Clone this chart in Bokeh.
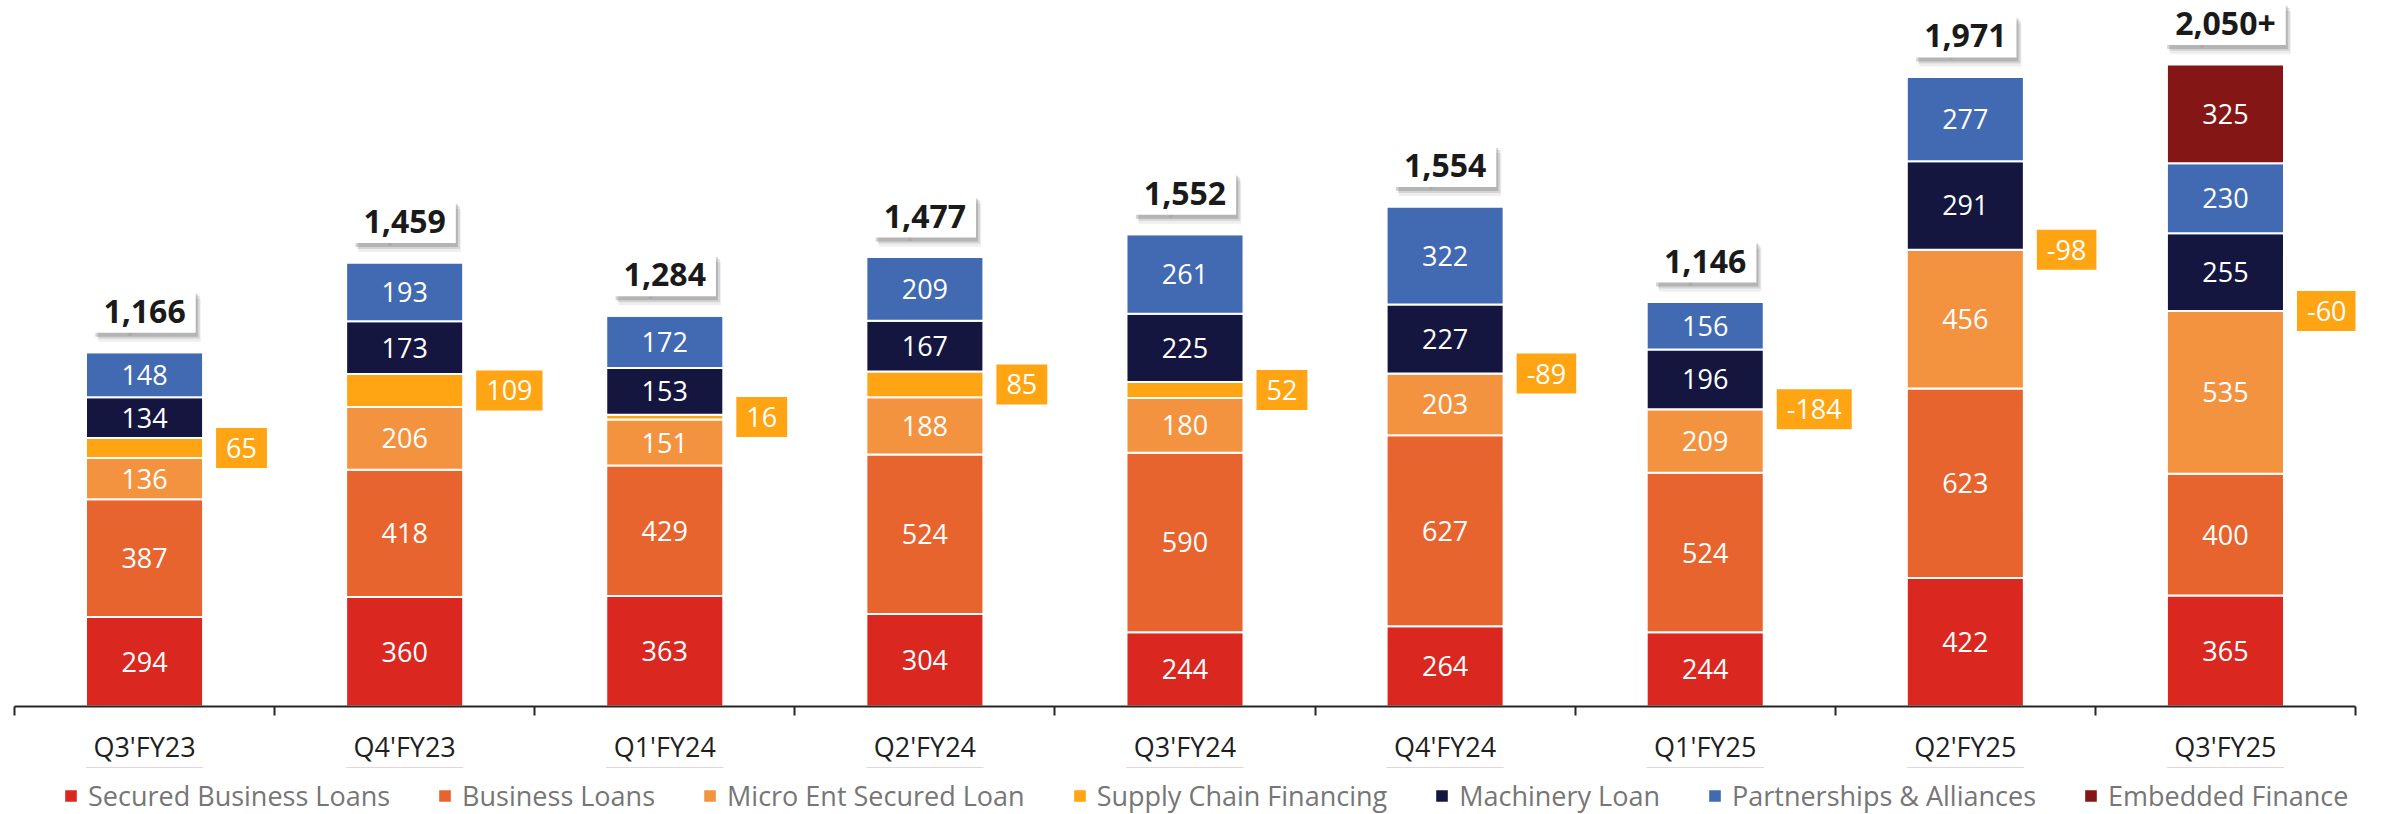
import numpy as np
from bokeh.plotting import figure
from bokeh.layouts import column
from bokeh.models import (ColumnDataSource, Range1d, LinearAxis, FixedTicker, Legend,
                          LegendItem, LabelSet, Label)
from bokeh.core.properties import value
from bokeh.embed import file_html
from bokeh.resources import INLINE

# ---------------- data ----------------
categories = ["Q3'FY23", "Q4'FY23", "Q1'FY24", "Q2'FY24", "Q3'FY24",
              "Q4'FY24", "Q1'FY25", "Q2'FY25", "Q3'FY25"]
secured_business_loans = [294, 360, 363, 304, 244, 264, 244, 422, 365]
business_loans = [387, 418, 429, 524, 590, 627, 524, 623, 400]
micro_ent_secured_loan = [136, 206, 151, 188, 180, 203, 209, 456, 535]
supply_chain_financing = [65, 109, 16, 85, 52, -89, -184, -98, -60]
machinery_loan = [134, 173, 153, 167, 225, 227, 196, 291, 255]
partnerships_alliances = [148, 193, 172, 209, 261, 322, 156, 277, 230]
embedded_finance = [0, 0, 0, 0, 0, 0, 0, 0, 325]
total_labels = ["1,166", "1,459", "1,284", "1,477", "1,552",
                "1,554", "1,146", "1,971", "2,050+"]

series_names = ["Secured Business Loans", "Business Loans", "Micro Ent Secured Loan",
                "Supply Chain Financing", "Machinery Loan", "Partnerships & Alliances",
                "Embedded Finance"]
series_values = [secured_business_loans, business_loans, micro_ent_secured_loan,
                 supply_chain_financing, machinery_loan, partnerships_alliances,
                 embedded_finance]
colors = ["#DA2820", "#E8642E", "#F4933F", "#FFA412", "#141640", "#416AB2", "#841716"]

FONT = "Open Sans"
n = len(categories)
xs = [i + 0.5 for i in range(n)]
BAR_W = 0.45

# drawn heights (negative supply chain values have no visible segment)
drawn = [np.maximum(np.array(v, dtype=float), 0) for v in series_values]
keys = ["s%d" % i for i in range(len(series_names))]
data = {"x": xs}
for k, d in zip(keys, drawn):
    data[k] = d
src = ColumnDataSource(data)

p = figure(width=2382, height=767, output_backend="svg", toolbar_location=None,
           x_range=Range1d(0, n), y_range=Range1d(0, 2320),
           x_axis_location=None, y_axis_location=None,
           min_border_left=14, min_border_right=27, min_border_top=0, min_border_bottom=60)
p.outline_line_color = None
p.xgrid.visible = False
p.ygrid.visible = False
p.background_fill_color = "white"
p.border_fill_color = "white"

renderers = p.vbar_stack(keys, x="x", width=BAR_W, color=colors, source=src,
                         line_color="white", line_width=2)

# ---------------- axis ----------------
ax = LinearAxis(ticker=FixedTicker(ticks=xs, minor_ticks=list(range(n + 1))))
ax.major_label_overrides = {x: c for x, c in zip(xs, categories)}
ax.major_tick_line_color = None
ax.major_tick_out = 9
ax.major_tick_in = 0
ax.minor_tick_out = 9
ax.minor_tick_in = 0
ax.minor_tick_line_color = "#262626"
ax.minor_tick_line_width = 2
ax.axis_line_color = "#262626"
ax.axis_line_width = 2
ax.major_label_text_font = FONT
ax.major_label_text_font_size = "27px"
ax.major_label_text_color = "#1F1F1F"
ax.major_label_standoff = 12
p.add_layout(ax, "below")

# ---------------- segment labels ----------------
cum = np.zeros(n)
bottoms = []
for d in drawn:
    bottoms.append(cum.copy())
    cum = cum + d
pos_top = cum

for idx, (name, vals) in enumerate(zip(series_names, series_values)):
    if name == "Supply Chain Financing":
        continue
    lx, ly, lt = [], [], []
    for i in range(n):
        if vals[i] > 0:
            lx.append(xs[i])
            ly.append(bottoms[idx][i] + vals[i] / 2.0)
            lt.append(str(vals[i]))
    ls = LabelSet(x="x", y="y", text="t", source=ColumnDataSource(dict(x=lx, y=ly, t=lt)),
                  text_align="center", text_baseline="middle", text_color="white",
                  text_font=value(FONT), text_font_size=value("27px"))
    p.add_layout(ls)

# ---------------- supply chain labels (boxes right of bar) ----------------
sc_idx = series_names.index("Supply Chain Financing")
for i in range(n):
    v = supply_chain_financing[i]
    if v > 0:
        y = bottoms[sc_idx][i] + v / 2.0
    else:
        y = bottoms[sc_idx][i]
    p.add_layout(Label(x=xs[i] + BAR_W / 2, y=y, text=str(v), x_offset=13,
                       text_align="left", text_baseline="middle", text_color="white",
                       text_font=FONT, text_font_size="27px",
                       background_fill_color="#FFA412", padding=10))

# ---------------- totals in white boxes with shadow ----------------
TOTAL_OFF = 41
for i in range(n):
    for (dx, dy, a) in [(5, -9, 0.10), (4, -6, 0.16), (2, -4, 0.25)]:
        p.add_layout(Label(x=xs[i], y=pos_top[i], text=total_labels[i],
                           y_offset=TOTAL_OFF + dy, x_offset=dx,
                           text_align="center", text_baseline="middle",
                           text_color="#555555", text_alpha=a, text_font=FONT,
                           text_font_size="32px", text_font_style="bold",
                           background_fill_color="#555555",
                           background_fill_alpha=a, padding=10))
    p.add_layout(Label(x=xs[i], y=pos_top[i], text=total_labels[i], y_offset=TOTAL_OFF,
                       text_align="center", text_baseline="middle", text_color="#1A1A1A",
                       text_font=FONT, text_font_size="32px", text_font_style="bold",
                       background_fill_color="white", padding=10))

# ---------------- legend strip (same stacked series, kept out of view) ----------------
lf = figure(width=2382, height=47, output_backend="svg", toolbar_location=None,
            x_range=Range1d(0, n), y_range=Range1d(-2, -1),
            x_axis_location=None, y_axis_location=None, min_border=0)
lf.outline_line_color = None
lf.xgrid.visible = False
lf.ygrid.visible = False
lrs = lf.vbar_stack(keys, x="x", width=BAR_W, color=colors, source=src,
                    line_color="white", line_width=2)
items = [LegendItem(label=nm, renderers=[r]) for nm, r in zip(series_names, lrs)]
legend = Legend(items=items, orientation="horizontal", location=(48, 0),
                label_text_font=FONT, label_text_font_size="27px", label_text_color="#767676",
                glyph_width=17, glyph_height=17, label_standoff=9, spacing=46,
                border_line_color=None, background_fill_alpha=0, padding=0, margin=0)
lf.add_layout(legend, "center")

layout = column(p, lf, spacing=0)
open("out.html", "w").write(file_html(layout, INLINE))
